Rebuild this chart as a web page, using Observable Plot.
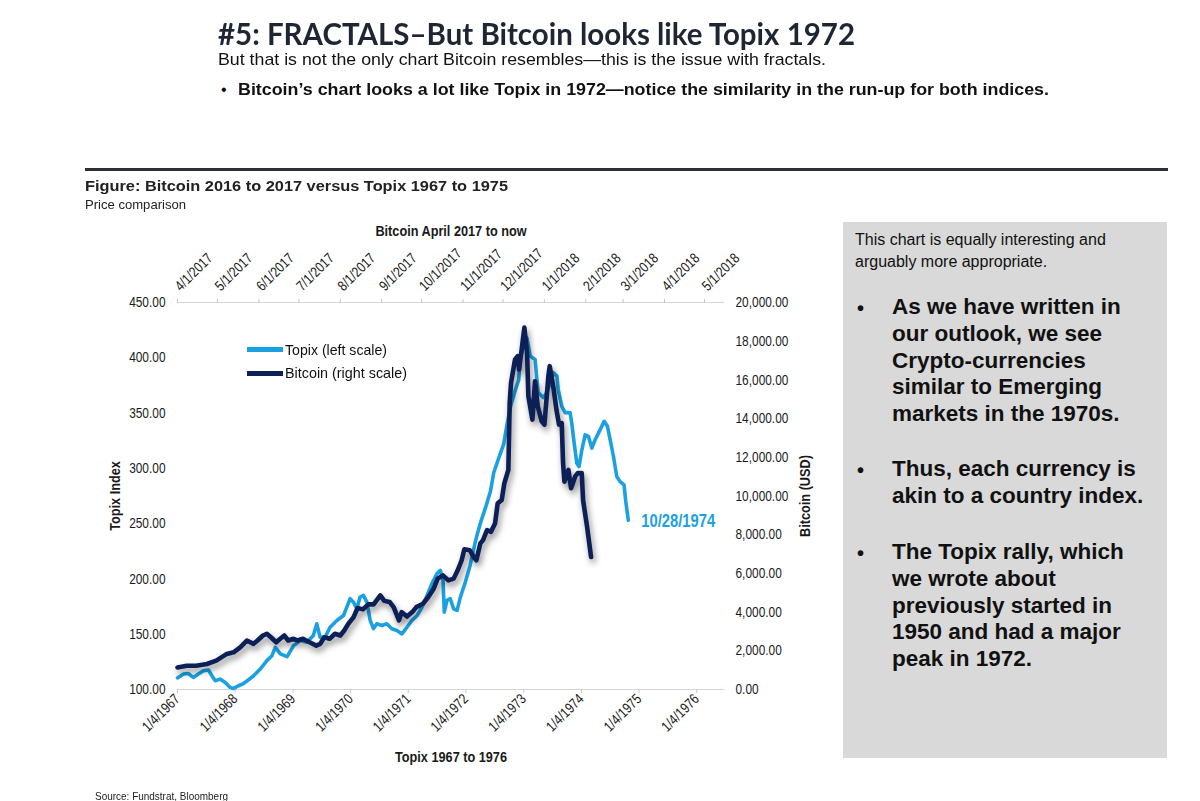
<!DOCTYPE html>
<html><head><meta charset="utf-8">
<script src="https://cdn.jsdelivr.net/npm/d3@7"></script>
<script src="https://cdn.jsdelivr.net/npm/@observablehq/plot@0.6"></script>
<style>
html,body{margin:0;padding:0;background:#fff;}
body{width:1200px;height:801px;position:relative;overflow:hidden;font-family:'Liberation Sans',Arial,sans-serif;color:#111;}
.t{position:absolute;white-space:nowrap;line-height:1;transform-origin:0 0;}
.n{font-family:'Liberation Sans Narrow','Arial Narrow','Liberation Sans',sans-serif;}
.b{font-weight:bold;}
#chart{position:absolute;left:80px;top:210px;width:760px;height:570px;}
#chart svg{position:absolute;left:0;top:0;}
.sw{position:absolute;height:5px;width:36px;}
</style></head><body>
<div class="t" data-w="637" style="left:218px;top:18px;font-family:Lato,'Open Sans',sans-serif;font-weight:700;font-size:31px;color:#1f2633;">#5: FRACTALS–But Bitcoin looks like Topix 1972</div>
<div class="t n" data-w="608" style="left:218px;top:51px;font-size:17px;">But that is not the only chart Bitcoin resembles—this is the issue with fractals.</div>
<div class="t" style="left:221px;top:82px;font-size:16px;">•</div>
<div class="t n b" data-w="811" style="left:238px;top:81px;font-size:17px;">Bitcoin’s chart looks a lot like Topix in 1972—notice the similarity in the run-up for both indices.</div>
<div style="position:absolute;left:85px;top:168px;width:1083px;height:3px;background:#2b2f38;"></div>
<div class="t b" data-w="423" style="left:85px;top:179px;font-size:14.5px;color:#222;">Figure: Bitcoin 2016 to 2017 versus Topix 1967 to 1975</div>
<div class="t n" data-w="101" style="left:85px;top:198px;font-size:13px;color:#222;">Price comparison</div>

<div style="position:absolute;left:843px;top:222px;width:324px;height:536px;background:#d9d9d9;"></div>
<div id="box"></div>

<div id="chart"></div>
<div class="sw" style="left:247px;top:347px;background:#1ba1e2;"></div>
<div class="t n" data-w="102" style="left:285px;top:343px;font-size:14.5px;">Topix (left scale)</div>
<div class="sw" style="left:247px;top:371px;background:#0c2057;"></div>
<div class="t n" data-w="122" style="left:285px;top:366px;font-size:14.5px;">Bitcoin (right scale)</div>

<div class="t n" data-w="133" style="left:95px;top:791px;font-size:11px;color:#222;">Source: Fundstrat, Bloomberg</div>

<script>
// ---------------- data ----------------
const topixDates = ["1967-01-04","1967-02-11","1967-03-13","1967-04-14","1967-05-16","1967-06-17","1967-07-19","1967-08-10","1967-08-31","1967-10-01","1967-11-02","1967-12-04","1967-12-25","1968-01-25","1968-02-26","1968-03-29","1968-04-30","1968-06-11","1968-07-23","1968-08-24","1968-09-14","1968-10-16","1968-11-28","1969-01-08","1969-02-19","1969-04-02","1969-05-13","1969-06-04","1969-06-25","1969-07-26","1969-08-27","1969-10-09","1969-11-20","1969-12-11","1970-01-01","1970-01-22","1970-02-12","1970-03-05","1970-03-26","1970-04-17","1970-05-08","1970-05-29","1970-06-19","1970-07-21","1970-08-21","1970-09-22","1970-10-24","1970-11-25","1970-12-27","1971-01-27","1971-03-01","1971-04-01","1971-05-03","1971-06-03","1971-07-05","1971-07-26","1971-08-12","1971-08-20","1971-09-06","1971-09-27","1971-10-18","1971-11-09","1971-11-30","1971-12-31","1972-01-30","1972-03-01","1972-03-15","1972-04-04","1972-05-06","1972-06-07","1972-06-28","1972-07-29","1972-08-30","1972-09-21","1972-10-11","1972-11-12","1972-12-03","1972-12-14","1973-01-03","1973-01-24","1973-02-14","1973-03-17","1973-04-05","1973-05-07","1973-05-30","1973-07-11","1973-08-02","1973-08-10","1973-09-02","1973-09-23","1973-10-24","1973-11-04","1973-11-19","1973-12-06","1973-12-20","1974-01-07","1974-01-28","1974-02-18","1974-03-11","1974-04-01","1974-05-03","1974-05-28","1974-06-18","1974-07-05","1974-07-26","1974-08-16","1974-09-06","1974-10-01","1974-10-12","1974-10-28"];
const topixValues = [110.5,114.0,114.5,110.9,114.0,117.0,117.6,112.4,107.9,109.4,106.4,101.8,101.0,103.4,105.4,108.8,112.4,118.5,126.1,130.6,138.1,132.2,129.7,139.7,144.2,142.7,148.8,159.4,147.2,147.2,156.3,162.4,166.9,174.5,182.1,179.0,173.0,183.6,185.1,179.0,162.4,155.1,159.4,157.9,159.4,154.9,153.3,150.3,156.3,162.4,166.9,174.5,185.1,195.7,204.8,207.8,198.7,169.9,180.6,182.1,173.0,171.5,183.6,197.0,212.0,232.0,240.0,250.2,264.0,279.0,296.0,309.0,322.0,340.0,355.0,371.0,380.0,401.0,410.0,418.0,401.5,398.5,368.6,364.0,368.3,386.5,383.4,371.3,356.1,350.4,350.4,341.1,323.2,304.7,301.6,316.8,330.4,328.9,318.3,325.9,335.0,342.5,338.0,325.9,310.7,292.6,288.0,285.0,270.0,253.0];

const btcDates = ["2017-04-01","2017-04-08","2017-04-15","2017-04-23","2017-04-30","2017-05-08","2017-05-13","2017-05-18","2017-05-23","2017-05-28","2017-05-31","2017-06-04","2017-06-07","2017-06-10","2017-06-14","2017-06-17","2017-06-20","2017-06-23","2017-06-27","2017-06-30","2017-07-04","2017-07-09","2017-07-14","2017-07-17","2017-07-20","2017-07-24","2017-07-28","2017-08-01","2017-08-04","2017-08-07","2017-08-11","2017-08-14","2017-08-18","2017-08-22","2017-08-26","2017-08-31","2017-09-03","2017-09-07","2017-09-10","2017-09-14","2017-09-16","2017-09-20","2017-09-24","2017-09-27","2017-10-02","2017-10-06","2017-10-10","2017-10-13","2017-10-17","2017-10-21","2017-10-25","2017-10-28","2017-10-31","2017-11-02","2017-11-06","2017-11-09","2017-11-11","2017-11-14","2017-11-16","2017-11-19","2017-11-22","2017-11-25","2017-11-27","2017-11-30","2017-12-02","2017-12-05","2017-12-06","2017-12-07","2017-12-10","2017-12-12","2017-12-13","2017-12-15","2017-12-17","2017-12-19","2017-12-20","2017-12-23","2017-12-25","2017-12-27","2017-12-30","2018-01-01","2018-01-04","2018-01-05","2018-01-08","2018-01-10","2018-01-12","2018-01-14","2018-01-15","2018-01-16","2018-01-19","2018-01-21","2018-01-24","2018-01-26","2018-01-29","2018-01-30","2018-02-02","2018-02-05"];
const btcValues = [1140,1230,1230,1320,1490,1840,1920,2180,2530,2360,2530,2790,2880,2700,2440,2620,2790,2530,2620,2530,2620,2440,2270,2360,2700,2620,2880,2790,3050,3390,3740,4210,4140,4400,4400,4860,4580,4520,4260,3570,4000,3770,4000,4260,4430,4780,5210,5730,5900,5640,5730,6160,6680,7250,7200,6850,6680,7550,7720,8240,8150,8580,9620,9790,10660,11350,14810,15850,17060,17230,16540,17580,18700,17410,15160,13950,15930,14640,13860,13690,16190,16710,15500,14470,13690,13770,11700,10740,11350,10400,11000,11180,11180,9790,8410,6850];

const topixTickLabels = ["1/4/1967","1/4/1968","1/4/1969","1/4/1970","1/4/1971","1/4/1972","1/4/1973","1/4/1974","1/4/1975","1/4/1976"];
const btcTickLabels = ["4/1/2017","5/1/2017","6/1/2017","7/1/2017","8/1/2017","9/1/2017","10/1/2017","11/1/2017","12/1/2017","1/1/2018","2/1/2018","3/1/2018","4/1/2018","5/1/2018"];
const leftTicks = [100,150,200,250,300,350,400,450];
const rightTicks = [0,2000,4000,6000,8000,10000,12000,14000,16000,18000,20000];

const boxIntro = ["This chart is equally interesting and","arguably more appropriate."];
const boxBullets = [
  ["As we have written in","our outlook, we see","Crypto-currencies","similar to Emerging","markets in the 1970s."],
  ["Thus, each currency is","akin to a country index."],
  ["The Topix rally, which","we wrote about","previously started in","1950 and had a major","peak in 1972."]
];

// ---------------- helpers ----------------
const LIGHT = "#1ba1e2", DARK = "#0c2057";
const NARROW = "'Liberation Sans Narrow','Arial Narrow','Liberation Sans',sans-serif";
const parseMDY = s => { const [m,d,y] = s.split("/").map(Number); return new Date(Date.UTC(y, m-1, d)); };
const fmtDate = d3.utcFormat("%-m/%-d/%Y");
const topix = topixDates.map((d,i) => ({date: new Date(d + "T00:00:00Z"), value: topixValues[i]}));
const btc = btcDates.map((d,i) => ({date: new Date(d + "T00:00:00Z"), value: btcValues[i]}));
const topixTicks = topixTickLabels.map(parseMDY);
const btcTicks = btcTickLabels.map(parseMDY);

const common = {
  width: 760, height: 570, marginLeft: 97, marginRight: 116, marginTop: 92, marginBottom: 91,
  style: {background: "transparent", fontFamily: NARROW, fontSize: "14.5px", color: "#1a1a1a", overflow: "visible"}
};

const pTopix = Plot.plot({
  ...common,
  x: {type: "utc", domain: [new Date("1967-01-04T00:00:00Z"), new Date("1976-06-28T00:00:00Z")]},
  y: {domain: [100, 450]},
  marks: [
    Plot.ruleY([100], {stroke: "#d6d6d6", strokeWidth: 1.2}),
    Plot.axisX({anchor: "bottom", ticks: topixTicks, tickFormat: d => fmtDate(d), tickRotate: -45, tickSize: 4, tickPadding: 3, stroke: "#c8c8c8", label: null}),
    Plot.axisY({anchor: "left", ticks: leftTicks, tickFormat: d => d.toFixed(2), tickSize: 0, tickPadding: 12, label: null}),
    Plot.text(["Topix Index"], {frameAnchor: "left", rotate: -90, dx: -62, textAnchor: "middle", lineAnchor: "middle", fontWeight: "bold", fontSize: 15.5}),
    Plot.text(["Topix 1967 to 1976"], {frameAnchor: "bottom", dy: 68, lineAnchor: "middle", fontWeight: "bold", fontSize: 15.5}),
    Plot.line(topix, {x: "date", y: "value", stroke: LIGHT, strokeWidth: 3.6, strokeLinejoin: "round"}),
    Plot.text([topix[topix.length - 1]], {x: "date", y: "value", text: d => fmtDate(d.date), textAnchor: "start", dx: 13, dy: 1, fill: LIGHT, fontSize: 18, fontWeight: "bold"})
  ]
});

const pBtc = Plot.plot({
  ...common,
  x: {type: "utc", domain: [new Date("2017-04-01T00:00:00Z"), new Date("2018-05-16T00:00:00Z")]},
  y: {domain: [0, 20000]},
  marks: [
    Plot.ruleY([20000], {stroke: "#d6d6d6", strokeWidth: 1.2}),
    Plot.axisX({anchor: "top", ticks: btcTicks, tickFormat: d => fmtDate(d), tickRotate: -45, tickSize: 4, tickPadding: 10, stroke: "#c8c8c8", label: null}),
    Plot.axisY({anchor: "right", ticks: rightTicks, tickFormat: d3.format(",.2f"), tickSize: 0, tickPadding: 11, label: null}),
    Plot.text(["Bitcoin April 2017 to now"], {frameAnchor: "top", dy: -71, lineAnchor: "middle", fontWeight: "bold", fontSize: 15.5}),
    Plot.text(["Bitcoin (USD)"], {frameAnchor: "right", rotate: -90, dx: 81, textAnchor: "middle", lineAnchor: "middle", fontWeight: "bold", fontSize: 15.5}),
    Plot.line(btc, {x: "date", y: "value", stroke: DARK, strokeWidth: 4.6, strokeLinejoin: "round"})
  ]
});

const chart = document.getElementById("chart");
chart.appendChild(pTopix);
chart.appendChild(pBtc);
pBtc.querySelectorAll('g[aria-label="line"] path').forEach(p => p.style.filter = "drop-shadow(2px 4px 3px rgba(0,0,0,0.45))");

// condense chart text horizontally (Arial Narrow look), about each text's own anchor
function condense(svg, s) {
  svg.querySelectorAll("text").forEach(t => {
    const x = parseFloat(t.getAttribute("x")) || 0;
    const tr = t.getAttribute("transform") || "";
    t.setAttribute("transform", `${tr} translate(${x},0) scale(${s},1) translate(${-x},0)`);
  });
}
condense(pTopix, 0.82);
condense(pBtc, 0.82);

// right-hand text box
const box = document.getElementById("box");
const addText = (txt, x, y, size, bold) => {
  const el = document.createElement("div");
  el.className = "t";
  el.style.left = x + "px"; el.style.top = y + "px"; el.style.fontSize = size + "px";
  if (bold) el.style.fontWeight = "bold";
  el.textContent = txt;
  box.appendChild(el);
  return el;
};
boxIntro.forEach((s, i) => addText(s, 855, 232 + i * 22, 16, false));
const bulletTops = [[296,323,350,376,403],[458,485],[541,568,595,621,648]];
boxBullets.forEach((lines, bi) => {
  addText("•", 857, bulletTops[bi][0] + 2, 20, true);
  lines.forEach((s, li) => addText(s, 892, bulletTops[bi][li], 22.5, true));
});

// fit widths
document.querySelectorAll("[data-w]").forEach(el => {
  const w = +el.dataset.w, a = el.getBoundingClientRect().width;
  if (a > 0) el.style.transform = `scaleX(${w / a})`;
});
</script>
</body></html>
